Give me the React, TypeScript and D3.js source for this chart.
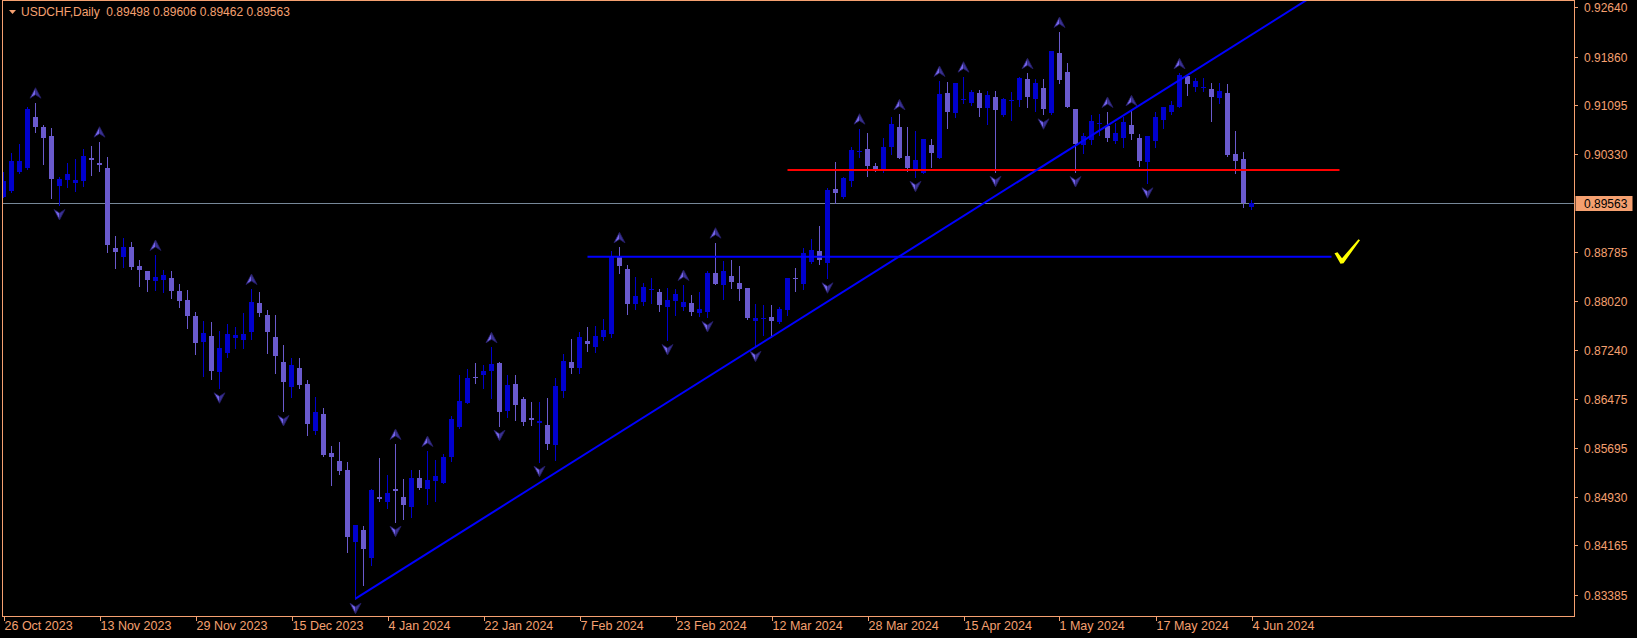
import React from "react";
import * as d3 from "d3";

// daily OHLC, bar 0 = 26 Oct 2023 ... bar 156 = 4 Jun 2024
const openPrices = [
  0.89656, 0.89746, 0.9005, 0.90113, 0.90912, 0.90754, 0.90613, 0.8983, 0.89924, 0.89868,
  0.89904, 0.90266, 0.90187, 0.90109, 0.88844, 0.88707, 0.88864, 0.88565, 0.88486, 0.88328,
  0.88349, 0.88376, 0.88171, 0.88029, 0.87777, 0.87372, 0.87462, 0.869, 0.87194, 0.87435,
  0.87394, 0.8753, 0.87982, 0.87793, 0.87446, 0.87052, 0.86659, 0.86958, 0.86706, 0.85966,
  0.86233, 0.85619, 0.85493, 0.85351, 0.84222, 0.84401, 0.8397, 0.84921, 0.84847, 0.85044,
  0.84926, 0.84768, 0.8522, 0.85052, 0.85178, 0.85151, 0.85556, 0.86029, 0.86407, 0.86816,
  0.86848, 0.86906, 0.87037, 0.86281, 0.86706, 0.8647, 0.86166, 0.86096, 0.8606, 0.85745,
  0.866, 0.87052, 0.86963, 0.87383, 0.87289, 0.87446, 0.87494, 0.88707, 0.88513, 0.87971,
  0.88002, 0.88179, 0.88155, 0.87919, 0.88018, 0.87919, 0.87982, 0.87829, 0.87845, 0.88454,
  0.8827, 0.88407, 0.88297, 0.88223, 0.87694, 0.87735, 0.87761, 0.87687, 0.87876, 0.88371,
  0.88286, 0.88632, 0.88806, 0.88607, 0.89778, 0.89647, 0.89904, 0.90361, 0.90408, 0.90145,
  0.90093, 0.90439, 0.90754, 0.90298, 0.90077, 0.90035, 0.90466, 0.90271, 0.91285, 0.9097,
  0.91184, 0.91128, 0.91285, 0.91058, 0.91222, 0.90943, 0.91175, 0.91184, 0.91511, 0.91191,
  0.91369, 0.9098, 0.91925, 0.91621, 0.91043, 0.90476, 0.90554, 0.90794, 0.9077, 0.90534,
  0.90586, 0.90781, 0.90581, 0.90208, 0.90539, 0.90865, 0.90995, 0.91074, 0.91558, 0.91389,
  0.91361, 0.91348, 0.91211, 0.91285, 0.90329, 0.9025, 0.89498,
];
const highPrices = [
  0.9005, 0.9035, 0.90487, 0.91074, 0.91137, 0.90786, 0.90734, 0.89962, 0.90187, 0.9025,
  0.90403, 0.90455, 0.90523, 0.90277, 0.89037, 0.89001, 0.88943, 0.88659, 0.8849, 0.88738,
  0.88502, 0.88486, 0.88281, 0.88187, 0.8784, 0.87703, 0.87683, 0.87541, 0.87646, 0.87599,
  0.87824, 0.88202, 0.88155, 0.87872, 0.87793, 0.87316, 0.8712, 0.8712, 0.86769, 0.86501,
  0.86328, 0.85729, 0.85787, 0.85477, 0.84485, 0.84469, 0.85047, 0.8554, 0.85268, 0.85761,
  0.85209, 0.85351, 0.85351, 0.8565, 0.85509, 0.856, 0.86202, 0.86848, 0.86947, 0.87032,
  0.87, 0.87284, 0.87045, 0.86848, 0.86848, 0.86506, 0.86427, 0.86427, 0.86485, 0.86796,
  0.87183, 0.87415, 0.8753, 0.87604, 0.87612, 0.87735, 0.88801, 0.88859, 0.88576, 0.88391,
  0.88292, 0.88376, 0.88202, 0.88218, 0.88202, 0.88265, 0.88103, 0.88155, 0.88486, 0.88932,
  0.88643, 0.88659, 0.88565, 0.88225, 0.87961, 0.87946, 0.87946, 0.87924, 0.8838, 0.88528,
  0.88844, 0.88985, 0.89195, 0.89793, 0.90208, 0.89971, 0.90444, 0.90728, 0.90655, 0.90192,
  0.90586, 0.90907, 0.90954, 0.90754, 0.90696, 0.9057, 0.90561, 0.91479, 0.91463, 0.9145,
  0.91547, 0.91337, 0.91337, 0.91326, 0.91326, 0.91206, 0.9131, 0.91547, 0.916, 0.91506,
  0.91515, 0.9195, 0.92251, 0.91758, 0.91045, 0.90655, 0.90943, 0.90959, 0.90991, 0.90822,
  0.90907, 0.91017, 0.90639, 0.90617, 0.90995, 0.91074, 0.91169, 0.916, 0.91574, 0.91522,
  0.91531, 0.91443, 0.91443, 0.91432, 0.90684, 0.90356, 0.89606,
];
const lowPrices = [
  0.89644, 0.89735, 0.9003, 0.90088, 0.9068, 0.90176, 0.89641, 0.89526, 0.89814, 0.89751,
  0.8983, 0.89998, 0.90061, 0.8879, 0.88538, 0.88544, 0.88513, 0.88254, 0.88176, 0.88187,
  0.8816, 0.88061, 0.87924, 0.87593, 0.87183, 0.86837, 0.8678, 0.86638, 0.87127, 0.87278,
  0.87268, 0.8741, 0.87782, 0.87199, 0.86884, 0.86281, 0.86506, 0.86648, 0.85902, 0.85913,
  0.85576, 0.85115, 0.85288, 0.84059, 0.83324, 0.8354, 0.83855, 0.84868, 0.84753, 0.84537,
  0.84579, 0.84615, 0.85057, 0.84816, 0.84868, 0.85146, 0.85498, 0.8602, 0.86402, 0.86717,
  0.86638, 0.8649, 0.86049, 0.86191, 0.86139, 0.8606, 0.8606, 0.85482, 0.85682, 0.85509,
  0.86506, 0.86874, 0.86874, 0.8723, 0.87215, 0.87399, 0.87451, 0.88459, 0.87813, 0.87892,
  0.8795, 0.87987, 0.87861, 0.87399, 0.87793, 0.87867, 0.87793, 0.87782, 0.87761, 0.8828,
  0.8805, 0.88223, 0.88034, 0.8773, 0.87293, 0.87478, 0.87451, 0.87662, 0.87793, 0.88176,
  0.88207, 0.88607, 0.88591, 0.88371, 0.89552, 0.89631, 0.8983, 0.90287, 0.89987, 0.90061,
  0.9005, 0.90324, 0.90265, 0.90057, 0.89971, 0.90025, 0.9012, 0.90265, 0.90739, 0.90917,
  0.91128, 0.91101, 0.90928, 0.90797, 0.9005, 0.90928, 0.90865, 0.9109, 0.91074, 0.91006,
  0.90954, 0.90967, 0.91452, 0.91065, 0.90045, 0.9034, 0.90487, 0.90633, 0.90539, 0.90498,
  0.90439, 0.9057, 0.90145, 0.89868, 0.90444, 0.90734, 0.90959, 0.9107, 0.91258, 0.91326,
  0.91317, 0.90854, 0.91128, 0.90302, 0.90025, 0.89499, 0.89462,
];
const closePrices = [
  0.89904, 0.90219, 0.90219, 0.91038, 0.90759, 0.90586, 0.8994, 0.89935, 0.90014, 0.8992,
  0.90298, 0.90239, 0.9016, 0.889, 0.8879, 0.88859, 0.88554, 0.88502, 0.88349, 0.88387,
  0.88418, 0.88171, 0.88018, 0.87782, 0.87352, 0.87505, 0.86915, 0.87273, 0.87494, 0.87473,
  0.87494, 0.87993, 0.87829, 0.8753, 0.87152, 0.86742, 0.87, 0.8669, 0.8608, 0.8626,
  0.85587, 0.85556, 0.85335, 0.843, 0.8448, 0.84107, 0.85036, 0.8489, 0.84984, 0.85028,
  0.848, 0.8522, 0.85068, 0.85194, 0.85257, 0.85551, 0.86155, 0.86438, 0.86805, 0.86796,
  0.86911, 0.87021, 0.86265, 0.8669, 0.8638, 0.86107, 0.86143, 0.86118, 0.85761, 0.86674,
  0.87063, 0.86963, 0.87442, 0.87336, 0.87462, 0.87552, 0.88722, 0.88569, 0.87971, 0.88092,
  0.88229, 0.88195, 0.8795, 0.88029, 0.88124, 0.87998, 0.8784, 0.87887, 0.88454, 0.88286,
  0.88486, 0.88317, 0.88207, 0.87741, 0.87746, 0.87746, 0.87703, 0.87887, 0.88376, 0.8836,
  0.8877, 0.88817, 0.88659, 0.89762, 0.89715, 0.89956, 0.90392, 0.90376, 0.90145, 0.90093,
  0.90444, 0.90802, 0.90271, 0.90113, 0.9023, 0.90561, 0.9034, 0.91274, 0.90986, 0.91443,
  0.91196, 0.91306, 0.91058, 0.91258, 0.91022, 0.91196, 0.91184, 0.91531, 0.91222, 0.91443,
  0.91033, 0.91947, 0.9149, 0.91074, 0.90487, 0.90613, 0.90849, 0.9081, 0.90581, 0.90655,
  0.90833, 0.90649, 0.90219, 0.90613, 0.90907, 0.91065, 0.91096, 0.91569, 0.91432, 0.91474,
  0.91377, 0.91222, 0.91326, 0.90313, 0.90224, 0.89562, 0.89563,
];

// time axis labels, one every 12 bars
const dateLabels = [
  "26 Oct 2023", "13 Nov 2023", "29 Nov 2023", "15 Dec 2023", "4 Jan 2024",
  "22 Jan 2024", "7 Feb 2024", "23 Feb 2024", "12 Mar 2024", "28 Mar 2024",
  "15 Apr 2024", "1 May 2024", "17 May 2024", "4 Jun 2024",
];
const labelStep = 12;

const priceLabels = [
  0.9264, 0.9186, 0.91095, 0.9033, 0.88785, 0.8802, 0.8724, 0.86475, 0.85695, 0.8493,
  0.84165, 0.83385,
];

// Bill Williams fractals (bar indices)
const upFractals = [4, 12, 19, 31, 49, 53, 61, 77, 85, 89, 107, 112, 117, 120, 128, 132, 138, 141, 147];
const downFractals = [7, 27, 35, 44, 49, 62, 67, 83, 88, 94, 103, 114, 124, 130, 134, 143];

// drawn objects
const bidPrice = 0.89563;
const redLevel = { price: 0.90077, from: 98, to: 167 };
const blueLevel = { price: 0.88711, from: 73, to: 166 };
const trendA = { bar: 44, price: 0.83324 };
const trendB = { bar: 154.5, price: 0.92089 };

const width = 1637;
const height = 638;
const plotLeft = 2.5;
const plotRight = 1574.5;
const plotTop = 0.5;
const plotBottom = 616.5;
const fg = "#f5a070";
const bullColor = "#0000cd";
const bearColor = "#6a5acd";
const font = "'Liberation Sans', Arial, sans-serif";

function Fractal({ cx, cy, up }: { cx: number; cy: number; up: boolean }) {
  const s = up ? 1 : -1;
  const tip = [cx, cy - 5.5 * s];
  const left = [cx - 5.5, cy + 5 * s];
  const right = [cx + 5.5, cy + 5 * s];
  const notch = [cx, cy + 1.5 * s];
  const p = (pts: number[][]) => "M" + pts.map((q) => q.join(",")).join("L") + "Z";
  return (
    <g>
      <path d={p([tip, left, notch])} fill="#7565ea" />
      <path d={p([tip, notch, right])} fill="#3a3194" />
      <path d={p([tip, left, notch, right])} fill="none" stroke="#241d66" strokeWidth={0.8} />
    </g>
  );
}

export default function App() {
  const n = closePrices.length;
  const x = d3.scaleLinear().domain([0, 156]).range([3.5, 1251.5]);
  const y = d3.scaleLinear().domain([0.83385, 0.9264]).range([594.8, 7.3]);

  const slope = (trendB.price - trendA.price) / (trendB.bar - trendA.bar);
  const trendEndBar = 200;
  const trendEndPrice = trendA.price + slope * (trendEndBar - trendA.bar);

  const last = n - 1;
  const title = `USDCHF,Daily  ${openPrices[last].toFixed(5)} ${highPrices[last].toFixed(5)} ${lowPrices[last].toFixed(5)} ${closePrices[last].toFixed(5)}`;

  const by = Math.round(y(bidPrice)) + 0.5;

  return (
    <div style={{ position: "absolute", left: 0, top: 0 }}>
      <svg width={width} height={height} style={{ display: "block", background: "#000" }}>
        <defs>
          <clipPath id="plot">
            <rect x={plotLeft + 0.5} y={plotTop + 0.5} width={plotRight - plotLeft - 1} height={plotBottom - plotTop - 1} />
          </clipPath>
        </defs>
        <rect x={0} y={0} width={width} height={height} fill="#000" />

        <g clipPath="url(#plot)">
          {/* bid line */}
          <line x1={plotLeft} x2={plotRight} y1={by} y2={by} stroke="#778899" strokeWidth={1} />

          {/* candles */}
          <g shapeRendering="crispEdges">
            {closePrices.map((c, i) => {
              const o = openPrices[i];
              const col = c >= o ? bullColor : bearColor;
              const top = Math.round(y(Math.max(o, c)));
              const bot = Math.round(y(Math.min(o, c)));
              return (
                <g key={i}>
                  <line x1={x(i)} x2={x(i)} y1={Math.round(y(highPrices[i]))} y2={Math.round(y(lowPrices[i])) + 1} stroke={col} />
                  <rect x={x(i) - 2.5} y={top} width={5} height={Math.max(1, bot - top)} fill={col} />
                </g>
              );
            })}
          </g>

          {/* fractals */}
          {upFractals.map((i) => (
            <Fractal key={"u" + i} cx={x(i)} cy={y(highPrices[i]) - 9.5} up={true} />
          ))}
          {downFractals.map((i) => (
            <Fractal key={"d" + i} cx={x(i)} cy={y(lowPrices[i]) + 9.5} up={false} />
          ))}

          {/* horizontal levels */}
          <line x1={x(redLevel.from)} x2={x(redLevel.to)} y1={y(redLevel.price)} y2={y(redLevel.price)} stroke="#ff0000" strokeWidth={2} />
          <line x1={x(blueLevel.from)} x2={x(blueLevel.to)} y1={y(blueLevel.price)} y2={y(blueLevel.price)} stroke="#0000ff" strokeWidth={2} />

          {/* trend line (ray) */}
          <line x1={x(trendA.bar)} y1={y(trendA.price)} x2={x(trendEndBar)} y2={y(trendEndPrice)} stroke="#0000ff" strokeWidth={2} />

          {/* check mark */}
          <g transform={`translate(${x(blueLevel.to + 1)},${y(blueLevel.price)})`}>
            <path d="M-5,-3.5 L-2,-4.5 L2.5,1.5 L19,-17.5 L20.5,-16.5 L4,6.5 L1,7 Z" fill="#ffff00" />
          </g>
        </g>

        {/* frame */}
        <rect x={plotLeft} y={plotTop} width={plotRight - plotLeft} height={plotBottom - plotTop} fill="none" stroke={fg} strokeWidth={1} shapeRendering="crispEdges" />

        {/* price axis */}
        <g fontFamily={font} fontSize={12} fill={fg}>
          {priceLabels.map((p) => {
            const py = Math.round(y(p)) + 0.5;
            return (
              <g key={p}>
                <line x1={plotRight} x2={plotRight + 3} y1={py} y2={py} stroke={fg} shapeRendering="crispEdges" />
                <text x={1584} y={py} dy="0.36em">{p.toFixed(5)}</text>
              </g>
            );
          })}
          <rect x={plotRight + 1} y={by - 7.5} width={57} height={15} fill={fg} />
          <text x={1584} y={by} dy="0.36em" fill="#000">{bidPrice.toFixed(5)}</text>
        </g>

        {/* time axis */}
        <g fontFamily={font} fontSize={12.5} fill={fg}>
          {dateLabels.map((d, k) => {
            const tx = Math.round(x(k * labelStep)) + 0.5;
            return (
              <g key={d}>
                <line x1={tx} x2={tx} y1={plotBottom} y2={plotBottom + 4} stroke={fg} shapeRendering="crispEdges" />
                <text x={tx} y={630}>{d}</text>
              </g>
            );
          })}
        </g>

        {/* title */}
        <path d="M9,10 L16,10 L12.5,14 Z" fill={fg} />
        <text x={21} y={16} fontFamily={font} fontSize={12} fill={fg} style={{ whiteSpace: "pre" }}>
          {title}
        </text>
      </svg>
    </div>
  );
}
